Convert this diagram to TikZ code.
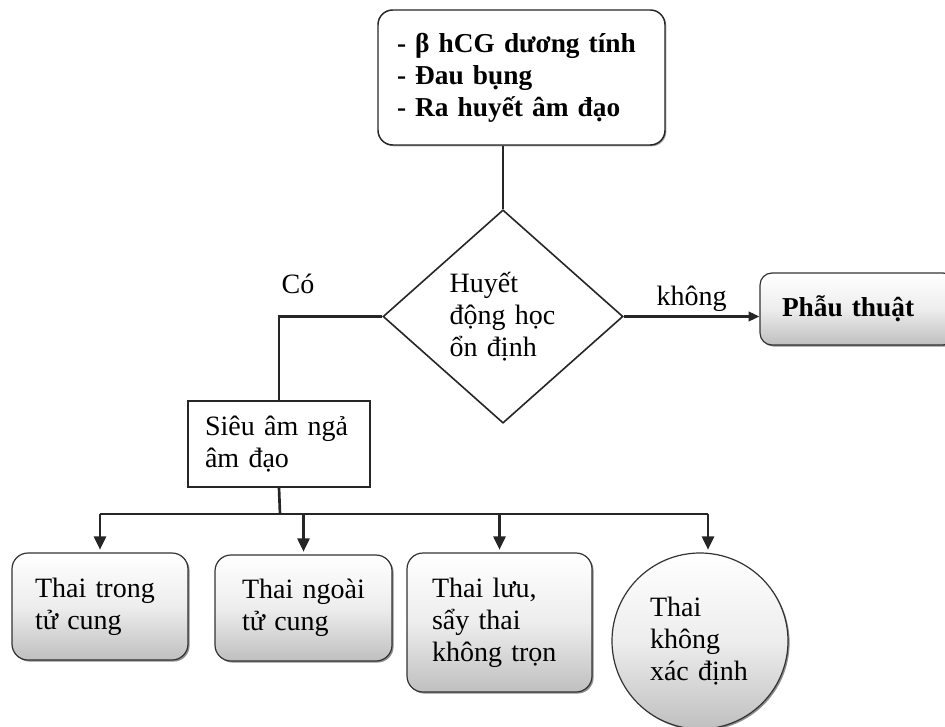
\documentclass[tikz,border=0pt]{standalone}
\usepackage{fontspec}
\setmainfont{Liberation Serif}
\usetikzlibrary{shapes.geometric,arrows.meta,shadows}
\begin{document}
\begin{tikzpicture}[x=0.75pt,y=-0.75pt,
  every node/.style={font=\fontsize{21}{24}\selectfont, inner sep=0pt, align=left},
  conn/.style={line width=2pt, draw=black!85},
  arr/.style={conn, -{Triangle[length=10pt,width=9pt]}, shorten >=2pt},
  gbox/.style={draw=black!80, line width=0.9pt, rounded corners=12pt,
    top color=white, bottom color=black!25, middle color=white!93!black,
    drop shadow={shadow xshift=1.2pt, shadow yshift=-1.2pt, fill=black!55, opacity=0.8}},
  topbox/.style={draw=black!85, line width=1.1pt, rounded corners=11pt, fill=white,
    drop shadow={shadow xshift=1pt, shadow yshift=-1pt, fill=black!50, opacity=0.7}},
  plainbox/.style={draw=black!85, line width=1pt, fill=white},
  decision/.style={diamond, draw=black!85, line width=1.2pt, fill=white},
  lbl/.style={font=\fontsize{21}{24}\selectfont}
]
\useasboundingbox (0,0) rectangle (945,727);

\node[topbox, minimum width=215.25pt, minimum height=101.25pt, text width=186.75pt,
  font=\fontsize{20.5}{24}\selectfont\bfseries] (top) at (521.5,77.5)
  {- β hCG dương tính\\- Đau bụng\\- Ra huyết âm đạo};

\node[decision, minimum width=180pt, minimum height=160pt, text width=80pt] (dia) at (503,316.5)
  {Huyết\\động học\\ổn định};

\node[gbox, rounded corners=9pt, minimum width=146.25pt, minimum height=54pt, text width=113.25pt,
  font=\fontsize{20.5}{24}\selectfont\bfseries] (phau) at (857.5,309) {Phẫu thuật};

\node[plainbox, minimum width=136.5pt, minimum height=64.5pt, text width=111pt] (sieu) at (279,444)
  {Siêu âm ngả\\âm đạo};

\node[gbox, minimum width=132pt, minimum height=80.25pt, text width=97.5pt] (b1) at (100,606.5)
  {Thai trong\\tử cung};
\node[gbox, minimum width=132.75pt, minimum height=79.5pt, text width=92.25pt] (b2) at (303.5,608)
  {Thai ngoài\\tử cung};
\node[gbox, minimum width=138.75pt, minimum height=104.25pt, text width=101.25pt] (b3) at (499.5,622.5)
  {Thai lưu,\\sẩy thai\\không trọn};
\node[gbox, circle, minimum size=132pt, text width=75pt] (b4) at (700,641)
  {Thai\\không\\xác định};

% connectors
\draw[conn] (dia.north |- top.south) -- (dia.north);
\draw[conn] (dia.west) -| (sieu.north);
\node[lbl] (co) at (298,284) {Có};
\draw[conn, -{Triangle[length=8pt,width=7pt]}] (dia.east) -- (dia.east -| phau.west)
  node[pos=0.5, above=3pt, lbl] (khong) {không};

\coordinate (bus) at (280,514);
\coordinate (a4) at (708,514);
\draw[conn] (sieu.south) -- (bus);
\draw[conn] (b1.north |- bus) -- (a4);
\draw[arr] (b1.north |- bus) -- (b1.north);
\draw[arr] (b2.north |- bus) -- (b2.north);
\draw[arr] (b3.north |- bus) -- (b3.north);
\draw[arr] (a4) -- (a4 |- b4.north);
\end{tikzpicture}
\end{document}
